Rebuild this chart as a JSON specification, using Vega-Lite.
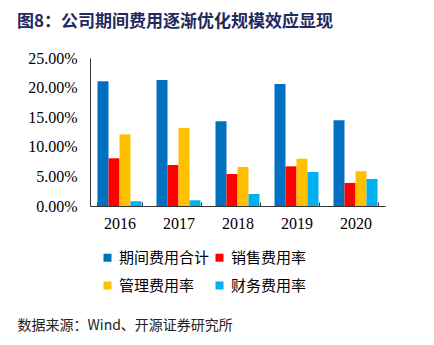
{
  "$schema": "https://vega.github.io/schema/vega-lite/v6.json",
  "width": 295,
  "height": 148,
  "autosize": {"type": "none"},
  "padding": {"left": 90, "top": 58, "right": 49, "bottom": 139},
  "background": "white",
  "title": {
    "text": "图8：公司期间费用逐渐优化规模效应显现",
    "anchor": "start",
    "frame": "group",
    "dx": -73,
    "font": "Noto Sans CJK SC",
    "fontSize": 17,
    "fontWeight": "bold",
    "color": "#1F2A5E",
    "offset": 19
  },
  "data": {
    "values": [
      {"year": "2016", "series": "期间费用合计", "value": 0.2106},
      {"year": "2016", "series": "销售费用率", "value": 0.0806},
      {"year": "2016", "series": "管理费用率", "value": 0.121},
      {"year": "2016", "series": "财务费用率", "value": 0.008},
      {"year": "2017", "series": "期间费用合计", "value": 0.2128},
      {"year": "2017", "series": "销售费用率", "value": 0.0693},
      {"year": "2017", "series": "管理费用率", "value": 0.132},
      {"year": "2017", "series": "财务费用率", "value": 0.0096},
      {"year": "2018", "series": "期间费用合计", "value": 0.143},
      {"year": "2018", "series": "销售费用率", "value": 0.054},
      {"year": "2018", "series": "管理费用率", "value": 0.066},
      {"year": "2018", "series": "财务费用率", "value": 0.0203},
      {"year": "2019", "series": "期间费用合计", "value": 0.206},
      {"year": "2019", "series": "销售费用率", "value": 0.067},
      {"year": "2019", "series": "管理费用率", "value": 0.08},
      {"year": "2019", "series": "财务费用率", "value": 0.0574},
      {"year": "2020", "series": "期间费用合计", "value": 0.1447},
      {"year": "2020", "series": "销售费用率", "value": 0.039},
      {"year": "2020", "series": "管理费用率", "value": 0.0586},
      {"year": "2020", "series": "财务费用率", "value": 0.0456}
    ]
  },
  "mark": {"type": "bar"},
  "encoding": {
    "x": {
      "field": "year",
      "type": "nominal",
      "scale": {"paddingInner": 0.254, "paddingOuter": 0.127},
      "axis": {
        "title": "数据来源：Wind、开源证券研究所",
        "titleAnchor": "start",
        "titleX": -73,
        "titleY": 119,
        "titleBaseline": "middle",
        "titleFont": "Noto Sans CJK SC",
        "titleFontSize": 14,
        "titleFontWeight": "normal",
        "titleColor": "#222222",
        "labelAngle": 0,
        "labelFont": "Liberation Serif",
        "labelFontSize": 16,
        "labelColor": "#000000",
        "labelPadding": 13,
        "tickBand": "extent",
        "tickSize": -4,
        "tickColor": "#333333",
        "domainColor": "#333333",
        "grid": false
      }
    },
    "xOffset": {
      "field": "series",
      "type": "nominal",
      "scale": {"domain": ["期间费用合计", "销售费用率", "管理费用率", "财务费用率"], "paddingInner": 0, "paddingOuter": 0}
    },
    "y": {
      "field": "value",
      "type": "quantitative",
      "scale": {"domain": [0, 0.25], "nice": false},
      "axis": {
        "title": null,
        "format": ".2%",
        "values": [0, 0.05, 0.1, 0.15, 0.2, 0.25],
        "labelFont": "Liberation Serif",
        "labelFontSize": 16,
        "labelColor": "#000000",
        "labelPadding": 13,
        "ticks": false,
        "grid": false,
        "domainColor": "#333333"
      }
    },
    "color": {
      "field": "series",
      "type": "nominal",
      "scale": {
        "domain": ["期间费用合计", "销售费用率", "管理费用率", "财务费用率"],
        "range": ["#0070C0", "#FF0000", "#FFC000", "#00B0F0"]
      },
      "legend": {
        "title": null,
        "orient": "none",
        "legendX": 10,
        "legendY": 192,
        "columns": 2,
        "direction": "horizontal",
        "symbolType": "square",
        "symbolSize": 64,
        "symbolStrokeWidth": 0,
        "symbolOffset": 0,
        "labelFont": "Noto Sans CJK SC",
        "labelFontSize": 15,
        "labelColor": "#000000",
        "labelOffset": 4,
        "columnPadding": 2,
        "rowPadding": 12,
        "padding": 0
      }
    }
  },
  "config": {"view": {"stroke": null}}
}
